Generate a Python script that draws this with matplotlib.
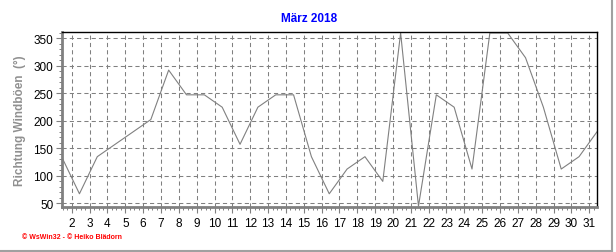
import numpy as np
import matplotlib
matplotlib.use("Agg")
import matplotlib.pyplot as plt
from matplotlib.lines import Line2D
from matplotlib.ticker import FixedLocator, MultipleLocator

plt.rcParams["font.family"] = ["Liberation Sans", "DejaVu Sans"]

# daily wind gust direction, March 2018
days = list(range(1, 32))
direction = [135, 67.5, 135, 157.5, 180, 202.5, 292.5, 247.5, 247.5, 225,
             157.5, 225, 247.5, 247.5, 135, 67.5, 112.5, 135, 90, 360,
             45, 247.5, 225, 112.5, 360, 360, 315, 225, 112.5, 135, 180]
day_labels = [str(d) for d in range(2, 32)]
yticks = [50, 100, 150, 200, 250, 300, 350]

grey = "#808080"

fig = plt.figure(figsize=(6.16, 2.53), dpi=100)
ax = fig.add_axes([0.100, 0.178, 0.869, 0.692])

ax.plot(days, direction, color=grey, lw=0.8, clip_on=True)

# labels sit a bit left of the day's data point
shift = 0.43
ax.set_xlim(1, 31)
ax.set_ylim(43.5, 362)
ax.xaxis.set_major_locator(FixedLocator([d - shift for d in range(2, 32)]))
ax.set_xticklabels(day_labels)
ax.xaxis.set_minor_locator(FixedLocator(np.arange(1 - shift, 31, 0.25)))
ax.set_yticks(yticks)
ax.yaxis.set_minor_locator(MultipleLocator(10))

ax.grid(True, which="major", color=grey, linestyle=(0, (4, 3)), lw=0.75)
ax.tick_params(axis="both", which="major", length=4, width=0.8, color=grey,
               labelsize=8.5, labelcolor="black", pad=2)
ax.tick_params(axis="both", which="minor", length=2, width=0.7, color=grey)
ax.tick_params(axis="x", which="major", pad=3)

for s in ["left", "bottom"]:
    ax.spines[s].set_color(grey)
    ax.spines[s].set_linewidth(2)
for s in ["top", "right"]:
    ax.spines[s].set_color("black")
    ax.spines[s].set_linewidth(1)

ax.set_ylabel("Richtung Windböen  (°)", color="#909090", fontsize=8.5,
              fontweight="bold", labelpad=5)

fig.text(0.502, 0.925, "März 2018", color="#0000ff", fontsize=8.5,
         fontweight="bold", ha="center", va="center")
fig.text(0.036, 0.063, "© WsWin32 - © Heiko Blädorn", color="#ff0000",
         fontsize=5, fontweight="bold", ha="left", va="center")

# outer frame edges (right and bottom)
fig.add_artist(Line2D([0.994, 0.994], [0.0, 1.0], color="#a0a0a0", lw=1.5))
fig.add_artist(Line2D([0.0, 0.994], [0.005, 0.005], color="#a0a0a0", lw=1.5))

fig.savefig("out.png", dpi=100)
